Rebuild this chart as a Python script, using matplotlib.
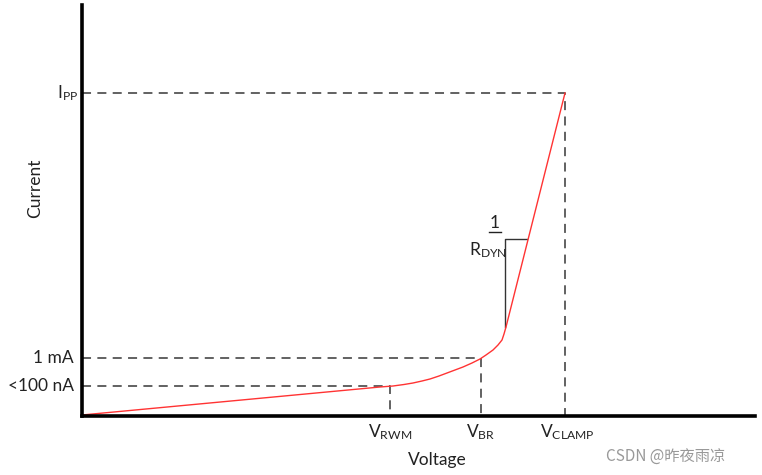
import numpy as np
import matplotlib.pyplot as plt

plt.rcParams['font.family'] = ['Lato', 'DejaVu Sans']
plt.rcParams['mathtext.fontset'] = 'custom'
plt.rcParams['mathtext.rm'] = 'Lato'

# data (arbitrary units)
v_curve = [0, 298, 311, 322, 331, 340, 348, 357, 365, 373, 381, 390, 398,
           404, 411, 416, 420, 422, 424, 483]
i_curve = [1, 29, 30, 31.5, 33, 35, 37, 40, 43, 46, 49, 53, 57,
           61, 66, 71, 76, 82, 89, 323]

v_rwm, i_leak = 308, 30
v_br, i_1ma = 399, 58
v_clamp, i_pp = 483, 323
v_knee, i_knee = 424, 89
i_tri = 177
v_tri = 445

fig = plt.figure(figsize=(7.62, 4.75), dpi=100)
ax = fig.add_axes([82 / 762, 59 / 475, 673 / 762, 411 / 475])
ax.set_xlim(0, 673)
ax.set_ylim(0, 411)

for s in ['top', 'right']:
    ax.spines[s].set_visible(False)
for s in ['left', 'bottom']:
    ax.spines[s].set_linewidth(2.6)
    ax.spines[s].set_color('black')
ax.set_xticks([])
ax.set_yticks([])

dash = dict(color='#555555', lw=1.3, ls=(0, (5, 3.5)))
ax.plot([0, v_clamp, v_clamp], [i_pp, i_pp, 0], **dash)
ax.plot([0, v_br, v_br], [i_1ma, i_1ma, 0], **dash)
ax.plot([0, v_rwm, v_rwm], [i_leak, i_leak, 0], **dash)

# slope triangle
ax.plot([v_knee - 1, v_knee - 1, v_tri], [i_knee, i_tri, i_tri], color='#333333', lw=1.0)

ax.plot(v_curve, i_curve, color='#ff3333', lw=1.0)

tc = '#222222'
fs = 12.5
ax.text(-4, i_pp, r'$\mathrm{I_{PP}}$', ha='right', va='center', fontsize=fs, color=tc)
ax.text(-8, i_1ma, '1 mA', ha='right', va='center', fontsize=fs, color=tc)
ax.text(-8, i_leak, '<100 nA', ha='right', va='center', fontsize=fs, color=tc)

ax.text(v_rwm, -16, r'$\mathrm{V_{RWM}}$', ha='center', va='center', fontsize=fs, color=tc)
ax.text(v_br, -16, r'$\mathrm{V_{BR}}$', ha='center', va='center', fontsize=fs, color=tc)
ax.text(v_clamp + 2, -16, r'$\mathrm{V_{CLAMP}}$', ha='center', va='center', fontsize=fs, color=tc)

# "1 / R_DYN" label with underline
ax.text(v_knee - 11, 193, '1', ha='center', va='center', fontsize=fs, color=tc)
ax.plot([v_knee - 17, v_knee - 5], [184, 184], color=tc, lw=1.0)
ax.text(v_knee + 1, 166, r'$\mathrm{R_{DYN}}$', ha='right', va='center', fontsize=fs, color=tc)

fig.text(437 / 762, 1 - 460 / 475, 'Voltage', ha='center', va='center', fontsize=fs, color=tc)
fig.text(35 / 762, 1 - 188 / 475, 'Current', ha='center', va='center', fontsize=fs,
         color=tc, rotation=90)

fig.text(666 / 762, 1 - 457 / 475, 'CSDN @昨夜雨凉', ha='center', va='center', fontsize=11,
         color='#999999', family=['Noto Sans CJK SC', 'DejaVu Sans'])

fig.savefig('out.png', dpi=100)
